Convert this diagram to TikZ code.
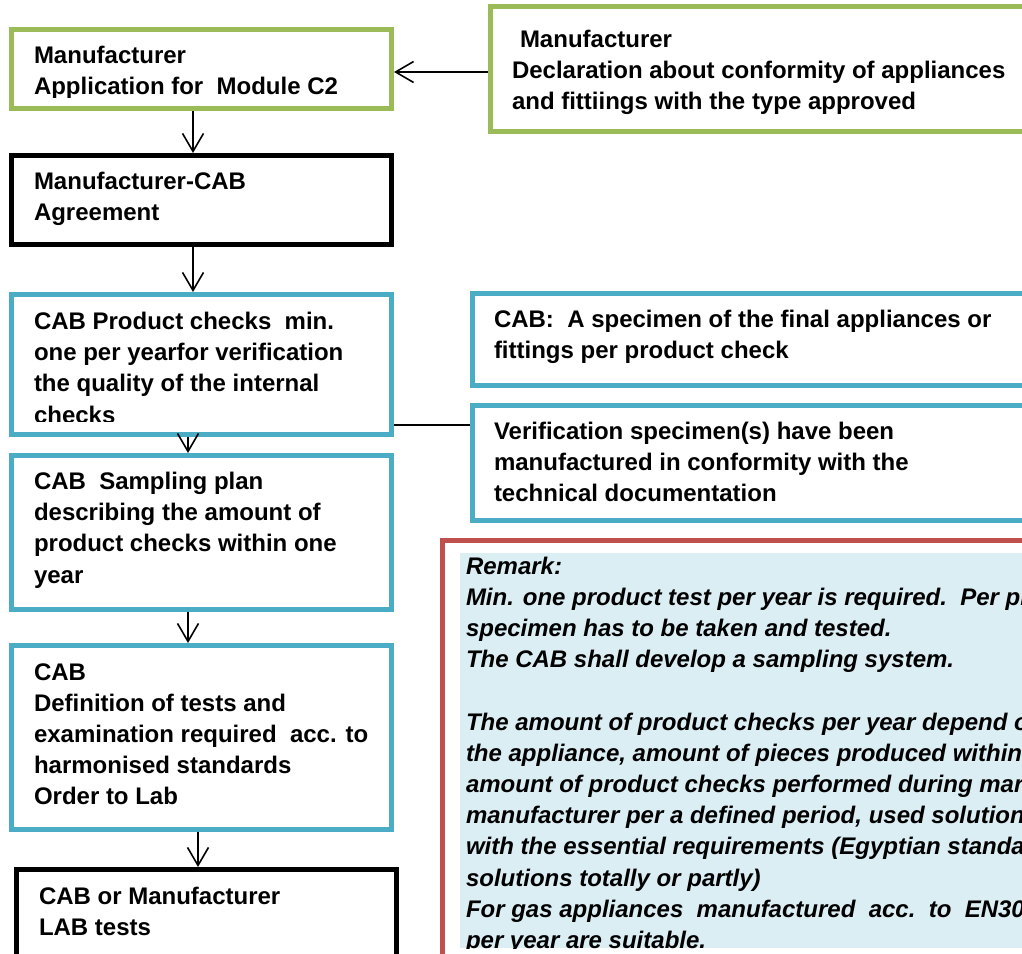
\documentclass[tikz,border=0pt]{standalone}
\usepackage{fontspec}
\setmainfont{Liberation Sans}
\usetikzlibrary{arrows.meta}
\definecolor{cgreen}{HTML}{9BBB59}
\definecolor{cblue}{HTML}{4BACC6}
\definecolor{cred}{HTML}{C0504D}
\definecolor{cfill}{HTML}{DAEEF3}
\begin{document}
\begin{tikzpicture}[x=1pt,y=-1pt,
  box/.style={draw=#1, line width=5pt, inner sep=0pt, outer sep=2.5pt, rectangle},
  txt/.style={inner sep=0pt, outer sep=0pt, anchor=base west, font=\bfseries\fontsize{24}{31.2}\selectfont},
  itxt/.style={txt, font=\bfseries\itshape\fontsize{24}{31.2}\selectfont},
  arr/.style={line width=1.6pt, -{Straight Barb[length=18pt,width=21pt,line width=1.6pt]}},
  link/.style={line width=1.6pt}]
\useasboundingbox (0,0) rectangle (1022,953);
\clip (0,0) rectangle (1022,953);
% boxes
\node[box=cgreen, minimum width=380pt, minimum height=79pt] (b1) at (201.5,69) {};
\node[box=cgreen, minimum width=560pt, minimum height=125pt] (b2) at (770,68.5) {};
\node[box=black, minimum width=380pt, minimum height=89pt] (b3) at (201.5,200) {};
\node[box=cblue, minimum width=380pt, minimum height=140pt] (b4) at (201.5,364.5) {};
\node[box=cblue, minimum width=380pt, minimum height=154pt] (b5) at (201.5,532.5) {};
\node[box=cblue, minimum width=380pt, minimum height=184pt] (b6) at (201.5,737.5) {};
\node[box=black, minimum width=380pt, minimum height=130.5pt] (b7) at (206.5,934.75) {};
\node[box=cblue, minimum width=578pt, minimum height=92pt] (b8) at (761,339.5) {};
\node[box=cblue, minimum width=578pt, minimum height=115pt] (b9) at (761,463) {};
\node[box=cred, minimum width=608pt, minimum height=459.5pt] (b10) at (746,770.25) {};
\fill[cfill] (460,553) rectangle (1030,948);
% texts
\begin{scope}
\clip (14,32) rectangle (389,97);
\node[txt] (t1) at (34,63) {\parbox[t]{600pt}{\raggedright Manufacturer\\Application for\ \ Module C2}};
\end{scope}
\node[txt] (t2) at (512,47.5) {\parbox[t]{600pt}{\raggedright\hspace*{8pt}Manufacturer\\Declaration about conformity of appliances\\and fittiings with the type approved}};
\node[txt] (t3) at (34,189.5) {\parbox[t]{600pt}{\raggedright Manufacturer-CAB\\Agreement}};
\begin{scope}
\clip (14,297) rectangle (389,421.5);
\node[txt] (t4) at (34,329.5) {\parbox[t]{600pt}{\raggedright CAB Product checks\ \ min.\\one per yearfor verification\\the quality of the internal\\checks}};
\end{scope}
\node[txt] (t5) at (34,489.5) {\parbox[t]{600pt}{\raggedright CAB\ \ Sampling plan\\describing the amount of\\product checks within one\\year}};
\node[txt] (t6) at (34,680) {\parbox[t]{600pt}{\raggedright CAB\\Definition of tests and\\examination required\ \ acc. to\\harmonised standards\\Order to Lab}};
\node[txt] (t7) at (39,904) {\parbox[t]{600pt}{\raggedright CAB or Manufacturer\\LAB tests}};
\node[txt] (t8) at (494,327) {\parbox[t]{600pt}{\raggedright CAB:\ \ A specimen of the final appliances or\\fittings per product check}};
\node[txt] (t9) at (494,439) {\parbox[t]{600pt}{\raggedright Verification specimen(s) have been\\manufactured in conformity with the\\technical documentation}};
\begin{scope}
\clip (460,553) rectangle (1022,948);
\node[itxt] (t10) at (466,574) {\parbox[t]{700pt}{\raggedright Remark:\\Min. one product test per year is required.\ \ Per pr\\specimen has to be taken and tested.\\The CAB shall develop a sampling system.\\\mbox{}\\The amount of product checks per year depend o\\the appliance, amount of pieces produced within\\amount of product checks performed during mar\\manufacturer per a defined period, used solution\\with the essential requirements (Egyptian standa\\solutions totally or partly)\\For gas appliances\ \ manufactured\ \ acc.\ \ to\ \ EN30\\per year are suitable.}};
\end{scope}
% connectors
\coordinate (xa) at (193,0);
\coordinate (xb) at (188,0);
\coordinate (xc) at (198,0);
\coordinate (ya) at (0,72);
\coordinate (yb) at (0,425);
\draw[arr] (b2.west |- ya) -- (b1.east |- ya);
\draw[arr] (b1.south -| xa) -- (b3.north -| xa);
\draw[arr] (b3.south -| xa) -- (b4.north -| xa);
\draw[arr] (b4.south -| xb) -- (b5.north -| xb);
\draw[arr] (b5.south -| xb) -- (b6.north -| xb);
\draw[arr] (b6.south -| xc) -- (b7.north -| xc);
\draw[link] (b4.east |- yb) -- (b9.west |- yb);
\end{tikzpicture}
\end{document}
